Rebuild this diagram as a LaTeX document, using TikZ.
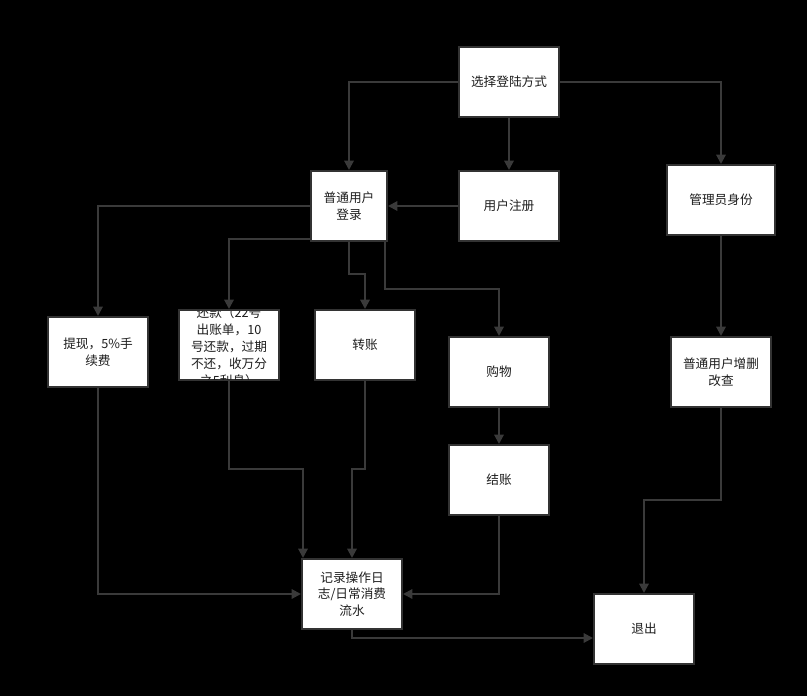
\documentclass[tikz,border=0pt]{standalone}
\usepackage{fontspec}
\setmainfont{Noto Sans CJK SC}
\usetikzlibrary{arrows.meta}
\definecolor{ln}{RGB}{58,58,58}
\definecolor{bd}{RGB}{51,51,51}
\definecolor{tx}{RGB}{30,30,30}
\begin{document}
\begin{tikzpicture}[x=0.75pt,y=-0.75pt,
  box/.style={draw=bd,line width=1.5pt,fill=white,minimum width=75pt,minimum height=52.5pt,inner sep=0pt,align=center,text=tx,font=\fontsize{9.5}{12.5}\selectfont},
  txt/.style={inner sep=0pt,align=center,text=tx,font=\fontsize{9.5}{12.75}\selectfont},
  arr/.style={draw=ln,line width=1.5pt,-{Triangle[length=7pt,width=7pt]}}]
\fill[black] (0,0) rectangle (807,696);
\node[box] (sel) at (509,82) {选择登陆方式};
\node[box,minimum width=57pt] (login) at (349,206) {普通用户\\登录};
\node[box] (reg) at (509,206) {用户注册};
\node[box,minimum width=81pt] (admin) at (721,200) {管理员身份};
\node[box] (wd) at (98,352) {提现，5\%手\\续费};
\node[box] (repay) at (229,345) {};
\begin{scope}
\clip ([shift={(1.5pt,-1.5pt)}]repay.north west) rectangle ([shift={(-1.5pt,1.5pt)}]repay.south east);
\node[txt] (repaytxt) at (229,347) {还款（22号\\出账单，10\\号还款，过期\\不还，收万分\\之5利息）};
\end{scope}
\node[box] (tr) at (365,345) {转账};
\node[box] (shop) at (499,372) {购物};
\node[box] (crud) at (721,372) {普通用户增删\\改查};
\node[box] (pay) at (499,480) {结账};
\node[box] (log) at (352,594) {记录操作日\\志/日常消费\\流水};
\node[box] (quit) at (644,629) {退出};

\draw[arr] (sel.west) -| (login.north);
\draw[arr] (sel.south) -- (reg.north);
\draw[arr] (sel.east) -| (admin.north);
\draw[arr] (reg.west) -- (login.east);
\draw[arr] (login.west) -| (wd.north);
\draw[arr] ([yshift=2.25pt]login.south west) -| (repay.north);
\draw[arr] (login.south) -- ++(0,32) -| (tr.north);
\draw[arr] ([xshift=-2.25pt]login.south east) -- ++(0,47) -| (shop.north);
\draw[arr] (shop.south) -- (pay.north);
\draw[arr] (admin.south) -- (crud.north);
\draw[arr] (crud.south) -- ++(0,92) -| (quit.north);
\draw[arr] (wd.south) |- (log.west);
\draw[arr] (repay.south) -- ++(0,88) -| ([xshift=1.5pt]log.north west);
\draw[arr] (tr.south) -- ++(0,88) -| (log.north);
\draw[arr] (pay.south) |- (log.east);
\draw[arr] (log.south) |- ([yshift=-6.75pt]quit.west);
\end{tikzpicture}
\end{document}
